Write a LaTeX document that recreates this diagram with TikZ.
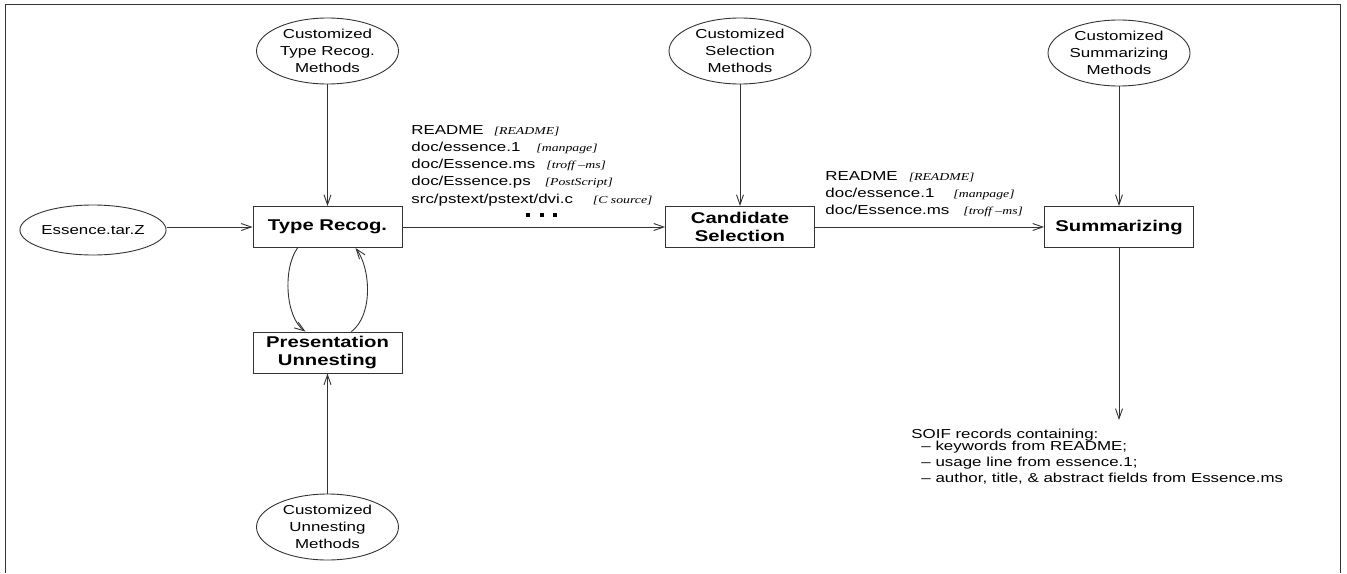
\documentclass[tikz,border=0pt]{standalone}
\usepackage{fontspec}
\usepackage{tikz}
\usetikzlibrary{shapes.geometric,arrows.meta,calc,positioning}

\newfontfamily\diagsf[FakeStretch=1.3]{Liberation Sans}
\newfontfamily\diagrm[FakeStretch=1.3]{Liberation Serif}
\newcommand{\kindtag}[1]{{\diagrm\itshape\fontsize{5.3}{8.6}\selectfont #1}}

\begin{document}
\begin{tikzpicture}[x=0.5pt,y=-0.5pt,>={Straight Barb[length=5pt,width=3.5pt]},
  line width=0.45pt,
  every node/.style={font=\diagsf\fontsize{6.5}{8.6}\selectfont},
  stage/.style={draw=black!80, rectangle, minimum width=74.5pt, minimum height=20.5pt,
    inner sep=1pt, align=center, font=\diagsf\bfseries\fontsize{7.8}{8.6}\selectfont},
  custom/.style={draw=black!80, ellipse, minimum width=71pt, minimum height=33pt,
    inner sep=0pt, align=center},
  flow/.style={->, black!80}]

\useasboundingbox (0,0) rectangle (1347,573);

% the frame
\draw[black!80] (5,573) -- (5,4) -- (1340,4) -- (1340,573);

% the stages
\node[stage] (trecog) at (327.5,227) {Type Recog.};
\node[stage] (unnest) at (327.5,352.5) {Presentation\\Unnesting};
\node[stage] (select) at (740,227) {Candidate\\Selection};
\node[stage] (summ) at (1119,227) {Summarizing};

% customized methods
\node[custom] (trecogm) at (327.5,51) {Customized\\Type Recog.\\Methods};
\node[custom] (unnestm) at (327.5,527) {Customized\\Unnesting\\Methods};
\node[custom] (selectm) at (740,51) {Customized\\Selection\\Methods};
\node[custom] (summm) at (1119,53) {Customized\\Summarizing\\Methods};

% the input
\node[custom, minimum width=72.5pt, minimum height=25pt] (tarfile) at (93,230) {Essence.tar.Z};

% connectors
\draw[flow] (tarfile.east |- trecog.west) -- (trecog.west);
\draw[flow] (trecogm) -- (trecog);
\draw[flow] (unnestm) -- (unnest);
\draw[flow] (selectm) -- (select);
\draw[flow] (summm) -- (summ);
\draw[flow] (trecog) -- (select);
\draw[flow] (select) -- (summ);
\coordinate (soiftip) at (1119,420);
\draw[flow] (summ) -- (soiftip);

% the unnesting loop
\draw[flow] ($(trecog.south)+(-30,0)$) .. controls +(-15,21) and +(-20,-14) .. ($(unnest.north)+(-22,0)$);
\draw[flow] ($(unnest.north)+(24,0)$) .. controls +(22,-17) and +(15,20) .. ($(trecog.south)+(28,0)$);

% file lists
\node[anchor=north west, inner sep=0pt, align=left] (list1) at (411,125) {%
  README\hspace{5pt}\kindtag{[README]}\\
  doc/essence.1\hspace{8pt}\kindtag{[manpage]}\\
  doc/Essence.ms\hspace{5.5pt}\kindtag{[troff –ms]}\\
  doc/Essence.ps\hspace{7pt}\kindtag{[PostScript]}\\
  src/pstext/pstext/dvi.c\hspace{10pt}\kindtag{[C source]}};
\foreach \x in {528,542,555}
  \fill (\x-2,213) rectangle +(4,4);

\node[anchor=north west, inner sep=0pt, align=left] (list2) at (825,171) {%
  README\hspace{5.5pt}\kindtag{[README]}\\
  doc/essence.1\hspace{9.5pt}\kindtag{[manpage]}\\
  doc/Essence.ms\hspace{7pt}\kindtag{[troff –ms]}};

% the output
\node[anchor=north west, inner sep=0pt, align=left, font=\diagsf\fontsize{6.5}{8}\selectfont] (soif) at (911,429) {%
  SOIF records containing:\\[-2pt]
  \hspace*{5pt}– keywords from README;\\
  \hspace*{5pt}– usage line from essence.1;\\
  \hspace*{5pt}– author, title, \& abstract fields from Essence.ms};

\end{tikzpicture}
\end{document}
